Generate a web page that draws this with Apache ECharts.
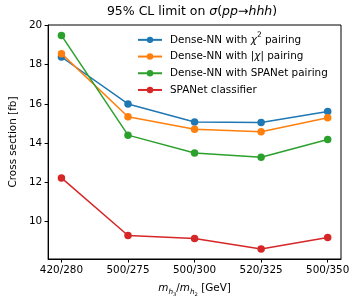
<!DOCTYPE html>
<html><head><meta charset="utf-8">
<script src="https://cdn.jsdelivr.net/npm/echarts@6/dist/echarts.min.js"></script>
<style>html,body{margin:0;padding:0;background:#fff}#c{width:357px;height:302px}</style>
</head><body><div id="c"></div>
<script>
const categories = ['420/280', '500/275', '500/300', '520/325', '500/350'];
const seriesNames = ['Dense-NN with χ2 pairing', 'Dense-NN with |χ| pairing', 'Dense-NN with SPANet pairing', 'SPANet classifier'];
const chi2Values = [18.39, 16.00, 15.08, 15.05, 15.61];
const absChiValues = [18.56, 15.35, 14.71, 14.58, 15.29];
const spanetPairValues = [19.49, 14.41, 13.50, 13.28, 14.19];
const spanetClassValues = [12.23, 9.30, 9.15, 8.61, 9.19];
const yTicks = [10, 12, 14, 16, 18, 20];
const colors = ['#1f77b4', '#ff7f0e', '#2ca02c', '#d62728'];
const allValues = [chi2Values, absChiValues, spanetPairValues, spanetClassValues];

const FONT = 'DejaVu Sans';
const chart = echarts.init(document.getElementById('c'), null, {renderer: 'canvas'});
const legendRich = {
  n: {fontFamily: FONT, fontSize: 10.4, color: '#000'},
  i: {fontFamily: FONT, fontSize: 10.4, fontStyle: 'italic', color: '#000'},
  sup: {fontFamily: FONT, fontSize: 7.5, color: '#000', verticalAlign: 'top', padding: [0, 0, 5, 0]}
};
const legendFmt = {
  'Dense-NN with χ2 pairing': '{n|Dense-NN with }{i|χ}{sup|2}{n| pairing}',
  'Dense-NN with |χ| pairing': '{n|Dense-NN with |}{i|χ}{n|| pairing}',
  'Dense-NN with SPANet pairing': '{n|Dense-NN with SPANet pairing}',
  'SPANet classifier': '{n|SPANet classifier}'
};

const option = {
  animation: false,
  backgroundColor: '#fff',
  title: {
    text: '{n|95% CL limit on }{i|σ}{n|(}{i|pp}{n|→}{i|hhh}{n|)}',
    left: 192, top: 5, textAlign: 'center', padding: 0,
    textStyle: {
      fontWeight: 'normal',
      rich: {
        n: {fontFamily: FONT, fontSize: 12.5, fontWeight: 'normal', color: '#000'},
        i: {fontFamily: FONT, fontSize: 12.5, fontWeight: 'normal', fontStyle: 'italic', color: '#000'}
      }
    }
  },
  grid: {left: 43, right: 16, top: 25, bottom: 43, show: true, borderColor: '#000', borderWidth: 1, containLabel: false},
  legend: {
    orient: 'vertical', left: 137, top: 31.5, padding: 0,
    itemWidth: 24, itemHeight: 8, itemGap: 0,
    data: seriesNames,
    formatter: n => legendFmt[n],
    textStyle: {lineHeight: 16.7, padding: [0, 0, 0, 3], rich: legendRich}
  },
  xAxis: {
    type: 'value', min: -0.2, max: 4.2,
    name: '{i|m}{s|h}{ss|3}{n|/}{i|m}{s|h}{ss|2}{n| [GeV]}',
    nameLocation: 'middle', nameGap: 24,
    nameTextStyle: {
      rich: {
        n: {fontFamily: FONT, fontSize: 10.4, color: '#000'},
        i: {fontFamily: FONT, fontSize: 10.4, fontStyle: 'italic', color: '#000'},
        s: {fontFamily: FONT, fontSize: 7.3, fontStyle: 'italic', color: '#000', verticalAlign: 'bottom', padding: [0, 0, -3, 0]},
        ss: {fontFamily: FONT, fontSize: 5.2, color: '#000', verticalAlign: 'bottom', padding: [0, 0, -4, 0]}
      }
    },
    axisLine: {show: true, onZero: false, lineStyle: {color: '#000', width: 1}},
    axisTick: {show: true, length: 3.5, lineStyle: {color: '#000'}, customValues: [0, 1, 2, 3, 4]},
    axisLabel: {color: '#000', fontFamily: FONT, fontSize: 10.4, margin: 6, customValues: [0, 1, 2, 3, 4],
      formatter: v => categories[Math.round(v)]},
    splitLine: {show: false}
  },
  yAxis: {
    type: 'value', min: 8.1, max: 20.02,
    name: 'Cross section [fb]', nameLocation: 'middle', nameGap: 27,
    nameTextStyle: {fontFamily: FONT, fontSize: 10.4, color: '#000'},
    axisLine: {show: true, onZero: false, lineStyle: {color: '#000', width: 1}},
    axisTick: {show: true, length: 3.5, lineStyle: {color: '#000'}, customValues: yTicks},
    axisLabel: {color: '#000', fontFamily: FONT, fontSize: 10.4, margin: 6, customValues: yTicks},
    splitLine: {show: false}
  },
  series: seriesNames.map((name, k) => ({
    name, type: 'line',
    data: allValues[k].map((v, i) => [i, v]),
    symbol: 'circle', symbolSize: 7.5,
    lineStyle: {color: colors[k], width: 1.5},
    itemStyle: {color: colors[k]},
    z: 2 + k
  }))
};
chart.setOption(option);
</script></body></html>
